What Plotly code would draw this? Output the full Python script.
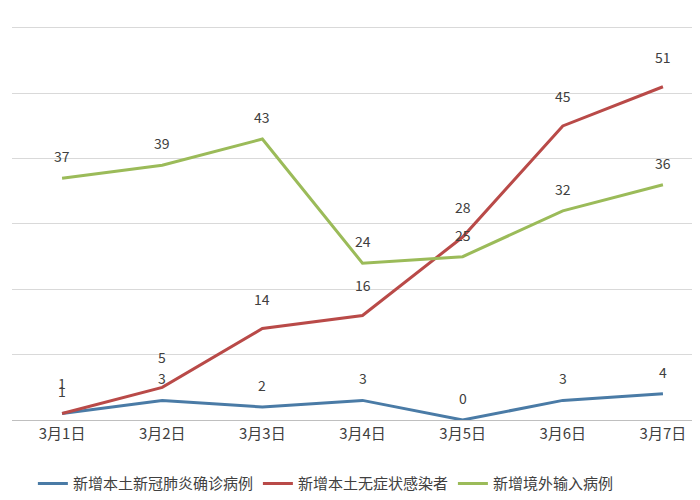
import plotly.graph_objects as go

dias = ["3月1日", "3月2日", "3月3日", "3月4日", "3月5日", "3月6日", "3月7日"]
confirmados = [1, 3, 2, 3, 0, 3, 4]
asintomaticos = [1, 5, 14, 16, 28, 45, 51]
importados = [37, 39, 43, 24, 25, 32, 36]

nombres = ["新增本土新冠肺炎确诊病例", "新增本土无症状感染者", "新增境外输入病例"]
colores = ["#4a7ba6", "#b94a48", "#9bbb59"]
desplaz = [22, 30, 22]

fig = go.Figure()
for nombre, valores, color, dy in zip(nombres, [confirmados, asintomaticos, importados], colores, desplaz):
    fig.add_trace(go.Scatter(
        x=dias, y=valores, name=nombre, mode="lines",
        line=dict(color=color, width=3)
    ))
    for d, v in zip(dias, valores):
        fig.add_annotation(x=d, y=v, text=str(v), showarrow=False, yshift=dy,
                           font=dict(size=14, color="#404040"))

fig.update_layout(
    width=700, height=500,
    margin=dict(l=4, r=0, t=18, b=88),
    plot_bgcolor="white", paper_bgcolor="white",
    font=dict(family="Noto Sans CJK SC", size=14, color="#404040"),
    showlegend=True,
    legend=dict(orientation="h", x=0.03, y=-0.12, xanchor="left", yanchor="top",
                font=dict(size=15)),
    xaxis=dict(range=[-0.5, 6.45], showline=True, linecolor="#bfbfbf",
               ticks="", showgrid=False, tickfont=dict(size=15)),
    yaxis=dict(range=[0, 60.3], dtick=10, showticklabels=False,
               gridcolor="#d9d9d9", zeroline=False),
)

fig.write_html("out.html")
